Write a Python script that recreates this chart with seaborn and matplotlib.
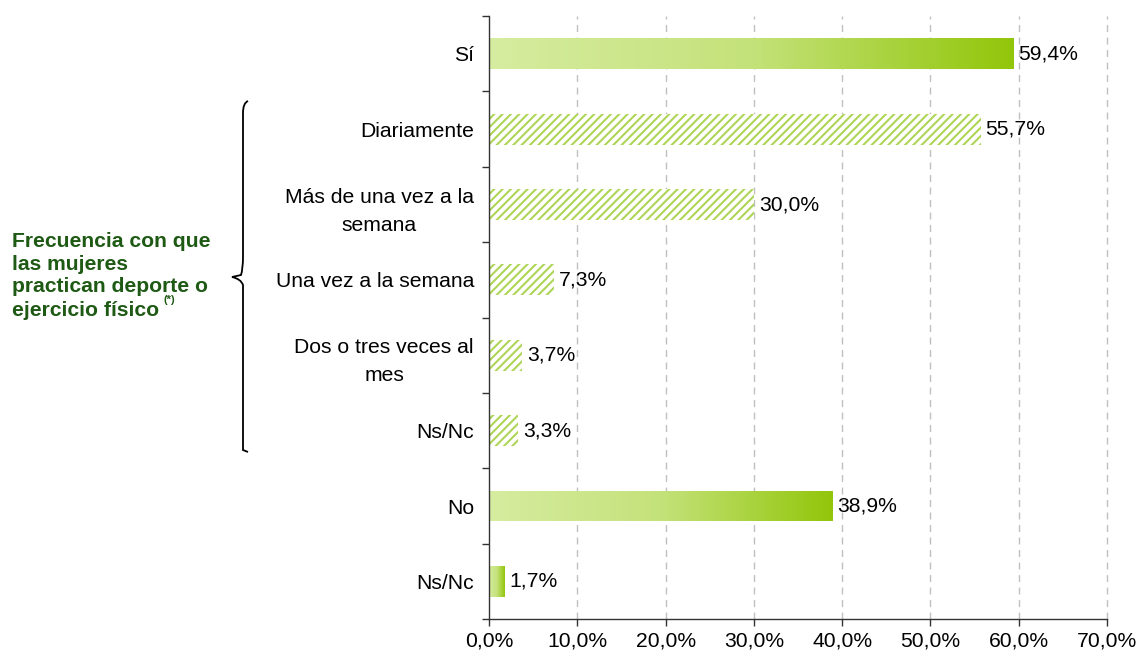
import numpy as np
import pandas as pd
import matplotlib
matplotlib.use('Agg')
import matplotlib.pyplot as plt
from matplotlib.colors import LinearSegmentedColormap
from matplotlib.path import Path
from matplotlib.patches import PathPatch
import seaborn as sns

# Datos
claves = ['si', 'diario', 'semana_mas', 'semana_una', 'mes', 'nsnc_frec', 'no', 'nsnc']
categorias = ['Sí', 'Diariamente', 'Más de una vez a la\nsemana', 'Una vez a la semana',
              'Dos o tres veces al\nmes', 'Ns/Nc', 'No', 'Ns/Nc']
valores = [59.4, 55.7, 30.0, 7.3, 3.7, 3.3, 38.9, 1.7]
rayado = [False, True, True, True, True, True, False, False]
etiquetas = ['59,4%', '55,7%', '30,0%', '7,3%', '3,7%', '3,3%', '38,9%', '1,7%']
ticks_x = [0, 10, 20, 30, 40, 50, 60, 70]
ticks_x_txt = ['0,0%', '10,0%', '20,0%', '30,0%', '40,0%', '50,0%', '60,0%', '70,0%']

df = pd.DataFrame({'cat': claves, 'valor': valores})

sns.set_style('white')
plt.rcParams['font.family'] = ['Liberation Sans', 'DejaVu Sans']
plt.rcParams['hatch.linewidth'] = 1.5
FS = 15.2

fig = plt.figure(figsize=(11.43, 6.6), dpi=100)
ax = fig.add_axes([0.428, 0.062, 0.5405, 0.9136])

sns.barplot(data=df, x='valor', y='cat', orient='h', ax=ax, width=0.41,
            color='#aed656', saturation=1)

verde = LinearSegmentedColormap.from_list('verde', ['#d6eca0', '#c4e27a', '#92c60a'])
grad = np.linspace(0, 1, 256).reshape(1, -1)

for i, p in enumerate(ax.patches):
    if rayado[i]:
        p.set_facecolor('white')
        p.set_edgecolor('#aed656')
        p.set_linewidth(0)
        p.set_hatch('////')
    else:
        x0, y0 = p.get_x(), p.get_y()
        w, h = p.get_width(), p.get_height()
        p.set_facecolor('none')
        p.set_linewidth(0)
        im = ax.imshow(grad, cmap=verde, aspect='auto', extent=[x0, x0 + w, y0 + h, y0],
                       zorder=2)
        im.set_clip_path(p)
    ax.text(valores[i] + 0.55, i, etiquetas[i], va='center', ha='left', fontsize=FS,
            color='black')

ax.set_xlim(0, 70)
ax.set_ylim(len(categorias) - 0.5, -0.5)
ax.set_xticks(ticks_x)
ax.set_xticklabels(ticks_x_txt, fontsize=FS, color='black')
ax.set_yticks(range(len(categorias)))
ax.set_yticklabels(categorias, fontsize=FS, color='black', multialignment='center',
                   linespacing=1.6)
ax.set_yticks(np.arange(-0.5, len(categorias), 1), minor=True)
ax.tick_params(axis='y', which='major', left=False, length=0, pad=11)
ax.tick_params(axis='y', which='minor', left=True, length=5, width=1, color='#333333',
               direction='out')
ax.tick_params(axis='x', which='major', bottom=True, length=5, width=1, color='#333333',
               direction='out', pad=4)
ax.set_xlabel('')
ax.set_ylabel('')

for x in ticks_x[1:]:
    ax.axvline(x, color='#c0c0c0', linestyle=(0, (5, 4)), linewidth=1, zorder=0,
               clip_on=False)

for s in ['top', 'right']:
    ax.spines[s].set_visible(False)
for s in ['left', 'bottom']:
    ax.spines[s].set_color('#333333')
    ax.spines[s].set_linewidth(1)

# Llave
W, H = 1143, 660
def fc(x, y):
    return (x / W, 1 - y / H)

xr, xl, ytop, ymid, ybot = 248, 232, 101, 277, 452
verts = [fc(xr, ytop), fc(xr - 5, ytop + 2), fc(xr - 5, ytop + 12), fc(xr - 5, ytop + 20),
         fc(xr - 5, ymid - 20), fc(xr - 5, ymid - 8), fc(xr - 7, ymid - 2), fc(xl, ymid),
         fc(xr - 7, ymid + 2), fc(xr - 5, ymid + 8), fc(xr - 5, ymid + 20),
         fc(xr - 5, ybot - 20), fc(xr - 5, ybot - 12), fc(xr - 5, ybot - 2), fc(xr, ybot)]
codes = [Path.MOVETO, Path.CURVE3, Path.CURVE3, Path.LINETO,
         Path.LINETO, Path.CURVE3, Path.CURVE3, Path.LINETO,
         Path.CURVE3, Path.CURVE3, Path.LINETO,
         Path.LINETO, Path.CURVE3, Path.CURVE3, Path.LINETO]
fig.add_artist(PathPatch(Path(verts, codes), transform=fig.transFigure, fill=False,
                         edgecolor='black', linewidth=1.3))

texto = ['Frecuencia con que', 'las mujeres', 'practican deporte o', 'ejercicio físico']
for k, linea in enumerate(texto):
    t = fig.text(12 / W, 1 - (241 + 23 * k) / H, linea, ha='left', va='center',
                 fontsize=FS, fontweight='bold', color='#1e5a14')
fig.text(163 / W, 1 - 300 / H, '(*)', ha='left', va='center', fontsize=8,
         fontweight='bold', color='#1e5a14')

fig.savefig('out.png', dpi=100)
